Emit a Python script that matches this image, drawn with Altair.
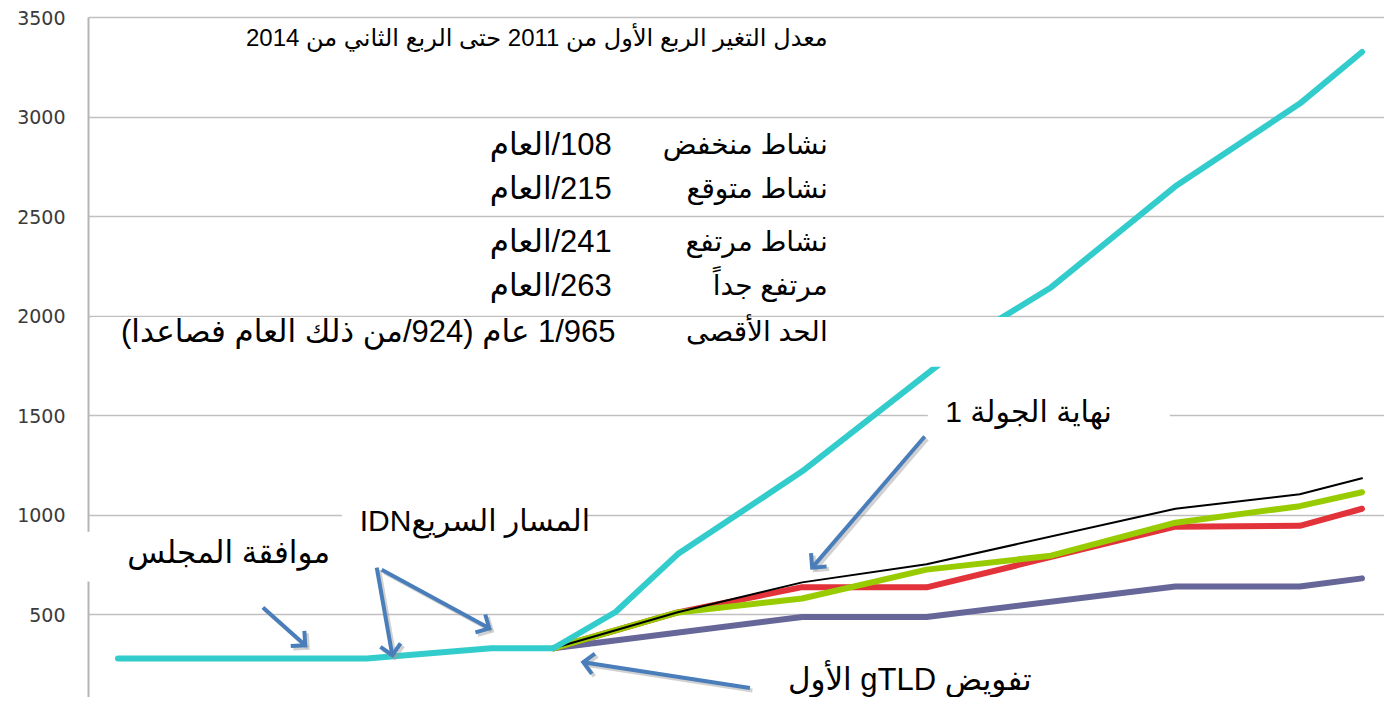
import math
import altair as alt
import pandas as pd

# ---------------- data (x = quarter index, y = number of TLDs) ----------------
max_x = [0, 4, 6, 7, 8, 9, 11, 14, 15, 17, 19, 20]
max_y = [277, 277, 328, 328, 510, 801, 1217, 1949, 2141, 2649, 3065, 3324]
vhigh_x = [7, 9, 11, 13, 17, 19, 20]
vhigh_y = [328, 509, 659, 750, 1029, 1102, 1182]
high_x = [7, 9, 11, 13, 15, 17, 19, 20]
high_y = [328, 508, 578, 723, 793, 959, 1042, 1112]
exp_x = [7, 9, 11, 13, 17, 19, 20]
exp_y = [328, 508, 635, 634, 939, 943, 1029]
low_x = [7, 11, 13, 17, 19, 20]
low_y = [328, 485, 485, 638, 638, 679]

series_names = ["low", "expected", "high", "veryhigh", "max"]
series_colors = ["#666699", "#E2323A", "#99CC00", "#000000", "#33CCCC"]
series_widths = [6, 6, 6, 2, 6]

y_ticks = [500, 1000, 1500, 2000, 2500, 3000, 3500]

# ---------------- text annotations ----------------
def rtl(s):
    return "\u202b" + s + "\u202c"

ann_text = [
    "معدل التغير الربع الأول من 2011 حتى الربع الثاني من 2014",
    "نشاط منخفض", "نشاط متوقع", "نشاط مرتفع", "مرتفع جداً", "الحد الأقصى",
    "108/العام", "215/العام", "241/العام", "263/العام",
    "1/965 عام (924/من ذلك العام فصاعدا)",
    "نهاية الجولة 1", "المسار السريعIDN", "موافقة المجلس", "تفويض gTLD الأول",
]
ann_x = [11.41, 11.41, 11.41, 11.41, 11.41, 11.41,
         7.94, 7.94, 7.94, 7.94, 8.0,
         15.98, 7.59, 3.41, 14.69]
ann_y = [3390, 2851, 2631, 2366, 2141, 1912,
         2851, 2631, 2366, 2141, 1912,
         1512, 962, 803, 165]
ann_size = [24, 28, 28, 28, 28, 28,
            31, 31, 31, 31, 31,
            30, 30, 31, 31]

# white boxes behind labels (hide gridlines)
box_x1 = [13.02, 3.60, -0.55, -0.42]
box_x2 = [16.91, 7.52, 3.49, 14.34]
box_y1 = [1417, 843, 663, 1742]
box_y2 = [1602, 1082, 913, 1992]

# arrows: tail -> tip
arrow_x0 = [2.33, 4.16, 4.24, 12.97, 10.16]
arrow_y0 = [533, 733, 723, 1392, 128]
arrow_x1 = [3.01, 4.41, 5.97, 11.16, 7.48]
arrow_y1 = [343, 293, 428, 733, 258]

# ---------------- layout ----------------
W, H = 1296, 680
X_DOM = [-0.482, 20.354]
Y_DOM = [83, 3500]
kx = W / (X_DOM[1] - X_DOM[0])
ky = H / (Y_DOM[1] - Y_DOM[0])

FONT = "Liberation Sans, DejaVu Sans, sans-serif"
ARROW = "#4A7EBB"

xs = alt.Scale(domain=X_DOM, nice=False, zero=False)
ys = alt.Scale(domain=Y_DOM, nice=False, zero=False)

rows = []
for name, xx, yy in [("max", max_x, max_y), ("veryhigh", vhigh_x, vhigh_y),
                     ("high", high_x, high_y), ("expected", exp_x, exp_y),
                     ("low", low_x, low_y)]:
    for a, b in zip(xx, yy):
        rows.append({"series": name, "q": a, "v": b})
lines_df = pd.DataFrame(rows)

axis_layer = alt.Chart(pd.DataFrame({"v": y_ticks})).mark_point(opacity=0).encode(
    x=alt.value(0),
    y=alt.Y("v:Q", scale=ys, axis=alt.Axis(
        values=y_ticks, format="d", grid=True, gridColor="#c0c0c0", gridWidth=1.6,
        domain=True, domainColor="#b5b5b5", domainWidth=2, ticks=False,
        labelPadding=23, labelFont="DejaVu Sans", labelFontSize=19, labelOffset=1,
        labelColor="#3a3a3a", title=None, zindex=0)),
)

layers = [axis_layer]
for name, col, sw in zip(series_names, series_colors, series_widths):
    layers.append(
        alt.Chart(lines_df[lines_df.series == name]).mark_line(
            color=col, strokeWidth=sw, strokeCap="round", strokeJoin="round"
        ).encode(
            x=alt.X("q:Q", scale=xs, axis=None),
            y=alt.Y("v:Q", scale=ys),
        )
    )

box_df = pd.DataFrame({"x1": box_x1, "x2": box_x2, "y1": box_y1, "y2": box_y2})
layers.append(alt.Chart(box_df).mark_rect(color="white", opacity=1).encode(
    x=alt.X("x1:Q", scale=xs), x2="x2:Q", y=alt.Y("y1:Q", scale=ys), y2="y2:Q"))

# arrows (shadow first)
adf = pd.DataFrame({"x0": arrow_x0, "y0": arrow_y0, "x1": arrow_x1, "y1": arrow_y1})
adf["angle"] = [
    (math.degrees(math.atan2(-(b1 - b0) * ky, (a1 - a0) * kx)) + 360) % 360
    for a0, b0, a1, b1 in zip(arrow_x0, arrow_y0, arrow_x1, arrow_y1)
]
sdf = adf.copy()
for c in ["x0", "x1"]:
    sdf[c] = sdf[c] + 2.5 / kx
for c in ["y0", "y1"]:
    sdf[c] = sdf[c] - 2.5 / ky

CHEVRON = "M-1,-1L0,0L-1,1"
for d, col, op in [(sdf, "#9a9a9a", 0.45), (adf, ARROW, 1.0)]:
    layers.append(alt.Chart(d).mark_rule(color=col, strokeWidth=4, opacity=op).encode(
        x=alt.X("x0:Q", scale=xs), x2="x1:Q", y=alt.Y("y0:Q", scale=ys), y2="y1:Q"))
    layers.append(alt.Chart(d).mark_point(
        shape=CHEVRON, filled=False, color=col, size=420, strokeWidth=4,
        opacity=op, strokeJoin="miter").encode(
        x=alt.X("x1:Q", scale=xs), y=alt.Y("y1:Q", scale=ys),
        angle=alt.Angle("angle:Q", scale=None)))

ann_df = pd.DataFrame({"t": [rtl(s) for s in ann_text], "x": ann_x, "y": ann_y, "s": ann_size})
layers.append(alt.Chart(ann_df).mark_text(
    align="right", baseline="middle", font=FONT, color="#000000").encode(
    x=alt.X("x:Q", scale=xs), y=alt.Y("y:Q", scale=ys), text="t:N",
    size=alt.Size("s:Q", scale=None, legend=None)))

chart = alt.layer(*layers).properties(
    width=W, height=H,
    padding={"left": 80, "top": 9, "right": 0, "bottom": 0},
    autosize=alt.AutoSizeParams(type="none"),
    background="white",
).configure_view(stroke=None)

chart.save("out.html", embed_options={"renderer": "svg", "actions": False})
